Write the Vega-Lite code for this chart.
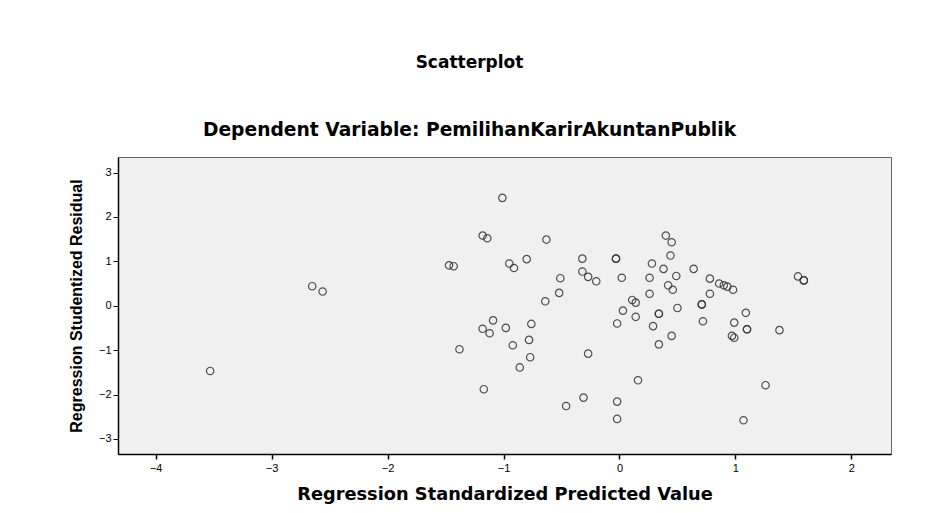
{
  "$schema": "https://vega.github.io/schema/vega-lite/v6.json",
  "autosize": {"type": "none"},
  "width": 773,
  "height": 297,
  "padding": {"left": 118, "top": 157, "right": 48, "bottom": 59},
  "background": "white",
  "title": {
    "text": "Scatterplot",
    "subtitle": "Dependent Variable: PemilihanKarirAkuntanPublik",
    "anchor": "middle",
    "frame": "group",
    "dx": -35,
    "offset": 16,
    "font": "DejaVu Sans",
    "fontSize": 17,
    "fontWeight": "bold",
    "color": "#000000",
    "subtitleFont": "DejaVu Sans",
    "subtitleFontSize": 18.7,
    "subtitleFontWeight": "bold",
    "subtitleColor": "#000000",
    "subtitlePadding": 49
  },
  "config": {
    "view": {"fill": "#f0f0f0", "stroke": "#666666", "strokeWidth": 1}
  },
  "data": {
    "values": [
      {"predicted": -3.53, "residual": -1.47},
      {"predicted": -2.65, "residual": 0.44},
      {"predicted": -2.56, "residual": 0.32},
      {"predicted": -1.47, "residual": 0.91},
      {"predicted": -1.43, "residual": 0.89},
      {"predicted": -1.38, "residual": -0.98},
      {"predicted": -1.18, "residual": 1.58},
      {"predicted": -1.14, "residual": 1.52},
      {"predicted": -1.18, "residual": -0.52},
      {"predicted": -1.12, "residual": -0.62},
      {"predicted": -1.17, "residual": -1.88},
      {"predicted": -1.09, "residual": -0.33},
      {"predicted": -1.01, "residual": 2.43},
      {"predicted": -0.98, "residual": -0.5},
      {"predicted": -0.95, "residual": 0.95},
      {"predicted": -0.91, "residual": 0.85},
      {"predicted": -0.92, "residual": -0.89},
      {"predicted": -0.86, "residual": -1.39},
      {"predicted": -0.8, "residual": 1.05},
      {"predicted": -0.76, "residual": -0.41},
      {"predicted": -0.78, "residual": -0.77},
      {"predicted": -0.77, "residual": -1.16},
      {"predicted": -0.64, "residual": 0.1},
      {"predicted": -0.63, "residual": 1.49},
      {"predicted": -0.52, "residual": 0.29},
      {"predicted": -0.51, "residual": 0.62},
      {"predicted": -0.46, "residual": -2.26},
      {"predicted": -0.32, "residual": 1.06},
      {"predicted": -0.32, "residual": 0.77},
      {"predicted": -0.27, "residual": 0.65},
      {"predicted": -0.2, "residual": 0.55},
      {"predicted": -0.31, "residual": -2.07},
      {"predicted": -0.27, "residual": -1.08},
      {"predicted": -0.03, "residual": 1.06},
      {"predicted": -0.03, "residual": 1.06},
      {"predicted": -0.02, "residual": -0.4},
      {"predicted": -0.02, "residual": -2.16},
      {"predicted": -0.02, "residual": -2.55},
      {"predicted": 0.02, "residual": 0.63},
      {"predicted": 0.03, "residual": -0.11},
      {"predicted": 0.11, "residual": 0.13},
      {"predicted": 0.14, "residual": 0.07},
      {"predicted": 0.14, "residual": -0.25},
      {"predicted": 0.16, "residual": -1.68},
      {"predicted": 0.26, "residual": 0.63},
      {"predicted": 0.26, "residual": 0.27},
      {"predicted": 0.28, "residual": 0.95},
      {"predicted": 0.29, "residual": -0.46},
      {"predicted": 0.34, "residual": -0.18},
      {"predicted": 0.34, "residual": -0.18},
      {"predicted": 0.34, "residual": -0.87},
      {"predicted": 0.38, "residual": 0.83},
      {"predicted": 0.4, "residual": 1.58},
      {"predicted": 0.42, "residual": 0.46},
      {"predicted": 0.44, "residual": 1.13},
      {"predicted": 0.45, "residual": 1.43},
      {"predicted": 0.46, "residual": 0.36},
      {"predicted": 0.45, "residual": -0.68},
      {"predicted": 0.49, "residual": 0.67},
      {"predicted": 0.5, "residual": -0.05},
      {"predicted": 0.64, "residual": 0.83},
      {"predicted": 0.71, "residual": 0.03},
      {"predicted": 0.71, "residual": 0.03},
      {"predicted": 0.72, "residual": -0.35},
      {"predicted": 0.78, "residual": 0.61},
      {"predicted": 0.78, "residual": 0.27},
      {"predicted": 0.86, "residual": 0.5},
      {"predicted": 0.9, "residual": 0.46},
      {"predicted": 0.93, "residual": 0.43},
      {"predicted": 0.98, "residual": 0.36},
      {"predicted": 0.97, "residual": -0.68},
      {"predicted": 0.99, "residual": -0.72},
      {"predicted": 0.99, "residual": -0.38},
      {"predicted": 1.07, "residual": -2.58},
      {"predicted": 1.09, "residual": -0.16},
      {"predicted": 1.1, "residual": -0.53},
      {"predicted": 1.1, "residual": -0.53},
      {"predicted": 1.26, "residual": -1.79},
      {"predicted": 1.38, "residual": -0.55},
      {"predicted": 1.54, "residual": 0.66},
      {"predicted": 1.59, "residual": 0.57},
      {"predicted": 1.59, "residual": 0.57}
    ]
  },
  "mark": {
    "type": "point",
    "shape": "circle",
    "filled": false,
    "size": 55,
    "stroke": "#333333",
    "strokeWidth": 1.2,
    "opacity": 0.85
  },
  "encoding": {
    "x": {
      "field": "predicted",
      "type": "quantitative",
      "scale": {"domain": [-4.325, 2.342], "nice": false, "zero": false},
      "axis": {
        "title": "Regression Standardized Predicted Value",
        "values": [-4, -3, -2, -1, 0, 1, 2],
        "format": "d",
        "grid": false,
        "domainColor": "#000000",
        "domainWidth": 1.5,
        "tickColor": "#000000",
        "tickWidth": 1.5,
        "tickSize": 5,
        "labelFont": "Liberation Sans",
        "labelFontSize": 11,
        "labelColor": "#000000",
        "labelPadding": 3,
        "titleFont": "DejaVu Sans",
        "titleFontSize": 17.8,
        "titleFontWeight": "bold",
        "titleColor": "#000000",
        "titlePadding": 12
      }
    },
    "y": {
      "field": "residual",
      "type": "quantitative",
      "scale": {"domain": [-3.34, 3.35], "nice": false, "zero": false},
      "axis": {
        "title": "Regression Studentized Residual",
        "values": [-3, -2, -1, 0, 1, 2, 3],
        "format": "d",
        "grid": false,
        "domainColor": "#000000",
        "domainWidth": 1.5,
        "tickColor": "#000000",
        "tickWidth": 1,
        "tickSize": 5,
        "labelFont": "Liberation Sans",
        "labelFontSize": 11,
        "labelColor": "#000000",
        "labelPadding": 2,
        "titleFont": "Liberation Sans",
        "titleFontSize": 16,
        "titleFontWeight": "bold",
        "titleColor": "#000000",
        "titlePadding": 14
      }
    }
  }
}
